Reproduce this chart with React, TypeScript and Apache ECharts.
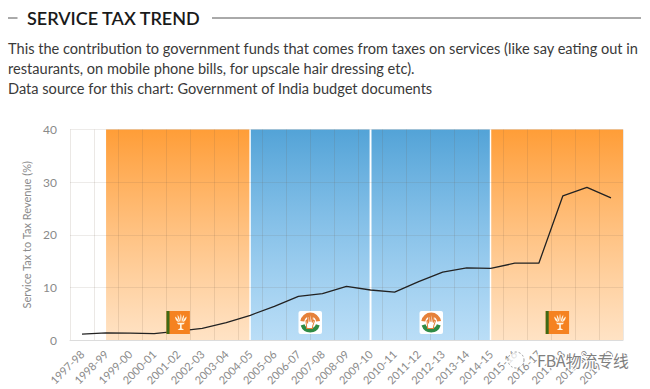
import React, { useEffect, useRef } from "react";
import * as echarts from "echarts";

const categories = ["1997-98","1998-99","1999-00","2000-01","2001-02","2002-03","2003-04","2004-05","2005-06","2006-07","2007-08","2008-09","2009-10","2010-11","2011-12","2012-13","2013-14","2014-15","2015-16","2016-17","2017-18","2018-19","2019-20"];
const serviceTaxShare = [1.1,1.35,1.3,1.2,1.7,2.2,3.3,4.7,6.4,8.3,8.8,10.2,9.5,9.1,11.1,12.9,13.7,13.6,14.6,14.6,27.4,29,27];
// Spans on a hidden 0..23 band scale
const bjpSpans = [[1.5, 7.46], [17.52, 23]];
const incSpans = [[7.52, 12.46], [12.54, 17.46]];
const titleText = "SERVICE TAX TREND";
const paragraphLines = [
  "This the contribution to government funds that comes from taxes on services (like say eating out in",
  "restaurants, on mobile phone bills, for upscale hair dressing etc).",
  "Data source for this chart: Government of India budget documents",
];
const bjpLogoX = [166.5, 545.7];
const incLogoX = [298.5, 419.5];

const FONT = "Lato, 'Open Sans', sans-serif";
const LOTUS = "M12 2 C13 5 13 8 12 11 C11 8 11 5 12 2 Z M8 3 C10 5 11 8 11 11 C9 10 8 6 8 3 Z M16 3 C16 6 15 10 13 11 C13 8 14 5 16 3 Z M5 5 C7 6 9 9 10 11 C7 11 5 8 5 5 Z M19 5 C19 8 17 11 14 11 C15 9 17 6 19 5 Z M7 12 L17 12 L15 14 L9 14 Z M11 14 L13 14 L13 18 L16 20 L8 20 L11 18 Z";
const HAND = "M8 20 L7 11 L8 10 L9 14 L9 6 L10.5 6 L10.8 12 L11.5 5 L13 5 L12.8 12 L14 6 L15.3 6 L14.4 13 L16 10 L17 11 L15 17 L14.5 20 Z";
const g: any = echarts.graphic;
g.registerShape("lotusMark", g.extendPath(LOTUS, {}));
g.registerShape("handMark", g.extendPath(HAND, {}));

const vGrad = (top: string, bottom: string) =>
  new echarts.graphic.LinearGradient(0, 0, 0, 1, [
    { offset: 0, color: top },
    { offset: 1, color: bottom },
  ]);

const spanAreas = (spans: number[][], top: string, bottom: string) =>
  spans.map(([a, b]) => [
    { coord: [a, 40], itemStyle: { color: vGrad(top, bottom) } },
    { coord: [b, 0] },
  ]);

const bjpLogo = (x: number) => ({
  type: "group",
  x,
  y: 311,
  z: 50,
  children: [
    { type: "rect", z: 50, shape: { x: 0, y: 0, width: 23.4, height: 23 }, style: { fill: "#f58220" } },
    { type: "rect", z: 51, shape: { x: 0, y: 0, width: 3, height: 23 }, style: { fill: "#3f6a16" } },
    { type: "lotusMark", z: 51, x: 4.5, y: 1, scaleX: 0.82, scaleY: 0.9, style: { fill: "#fff3e0" } },
  ],
});

const incLogo = (x: number) => ({
  type: "group",
  x,
  y: 311,
  z: 50,
  children: [
    { type: "rect", z: 50, shape: { x: 0, y: 0, width: 23.5, height: 23, r: 2 }, style: { fill: "#ffffff" } },
    { type: "sector", z: 51, shape: { cx: 11.7, cy: 11.5, r: 10, r0: 6, startAngle: Math.PI * 1.05, endAngle: Math.PI * 1.95 }, style: { fill: "#e5813a" } },
    { type: "sector", z: 51, shape: { cx: 11.7, cy: 11.5, r: 10, r0: 6, startAngle: Math.PI * 0.1, endAngle: Math.PI * 0.9 }, style: { fill: "#2f8b45" } },
    { type: "handMark", z: 52, x: 1.5, y: 0.5, scaleX: 0.85, scaleY: 0.85, style: { fill: "#ffffff", stroke: "#e5813a", lineWidth: 1.2 } },
  ],
});

const graphicElements: any[] = [
  { type: "line", shape: { x1: 8, y1: 18, x2: 17.5, y2: 18 }, style: { stroke: "#555", lineWidth: 1 } },
  { type: "text", x: 27, y: 18, style: { text: titleText, fill: "#1a1a1a", font: `600 18px ${FONT}`, verticalAlign: "middle" } },
  { type: "line", shape: { x1: 212, y1: 18, x2: 641, y2: 18 }, style: { stroke: "#555", lineWidth: 1 } },
  ...paragraphLines.map((text, i) => ({
    type: "text",
    x: 8,
    y: 48 + i * 20.4,
    style: { text, fill: "#3a3a3a", font: `14.6px ${FONT}`, verticalAlign: "middle" },
  })),
  ...bjpLogoX.map(bjpLogo),
  ...incLogoX.map(incLogo),
  { type: "circle", z: 60, shape: { cx: 516, cy: 360, r: 8 }, style: { fill: "rgba(255,255,255,0.75)", stroke: "#999", lineWidth: 1, lineDash: [2, 2] } },
  { type: "text", z: 60, x: 537, y: 360, style: { text: "FBA物流专线", fill: "#808080", stroke: "#fff", lineWidth: 2, font: "15.8px 'Noto Sans CJK SC', sans-serif", verticalAlign: "middle" } },
];

export default function App() {
  const ref = useRef<HTMLDivElement>(null);
  useEffect(() => {
    const chart = echarts.init(ref.current!, undefined, { renderer: "svg" });
    chart.setOption({
      animation: false,
      textStyle: { fontFamily: FONT },
      grid: { left: 70, right: 27, top: 129.5, bottom: 49 },
      xAxis: [
        {
          type: "category",
          data: categories,
          boundaryGap: true,
          z: 3,
          axisLine: { lineStyle: { color: "#dcdcdc" } },
          axisTick: { show: false },
          splitLine: { show: true, interval: 0, lineStyle: { color: "rgba(110,90,70,0.14)" } },
          axisLabel: { interval: 0, rotate: 45, color: "#8a8a8a", fontSize: 11, margin: 12, fontFamily: FONT },
        },
        { type: "value", min: 0, max: 23, show: false },
      ],
      yAxis: {
        type: "value",
        min: 0,
        max: 40,
        interval: 10,
        z: 3,
        name: "Service Tax to Tax Revenue (%)",
        nameLocation: "middle",
        nameGap: 26,
        nameTextStyle: { color: "#8a8a8a", fontSize: 11, fontFamily: FONT },
        axisLine: { show: false },
        axisTick: { show: false },
        splitLine: { lineStyle: { color: "rgba(110,90,70,0.12)" } },
        axisLabel: { color: "#8a8a8a", fontSize: 12, margin: 13, fontFamily: FONT },
      },
      series: [
        {
          type: "line",
          xAxisIndex: 1,
          z: 1,
          data: [],
          silent: true,
          markArea: { silent: true, data: spanAreas(bjpSpans, "rgba(255,140,20,0.85)", "rgba(255,160,60,0.3)") },
        },
        {
          type: "line",
          xAxisIndex: 1,
          z: 1,
          data: [],
          silent: true,
          markArea: { silent: true, data: spanAreas(incSpans, "rgba(40,140,205,0.8)", "rgba(90,175,235,0.42)") },
        },
        {
          type: "line",
          z: 5,
          data: serviceTaxShare,
          symbol: "none",
          lineStyle: { color: "#222", width: 1.3 },
        },
      ],
      graphic: { elements: graphicElements },
    });
    return () => chart.dispose();
  }, []);
  return <div ref={ref} style={{ position: "absolute", left: 0, top: 0, width: 650, height: 389 }} />;
}
